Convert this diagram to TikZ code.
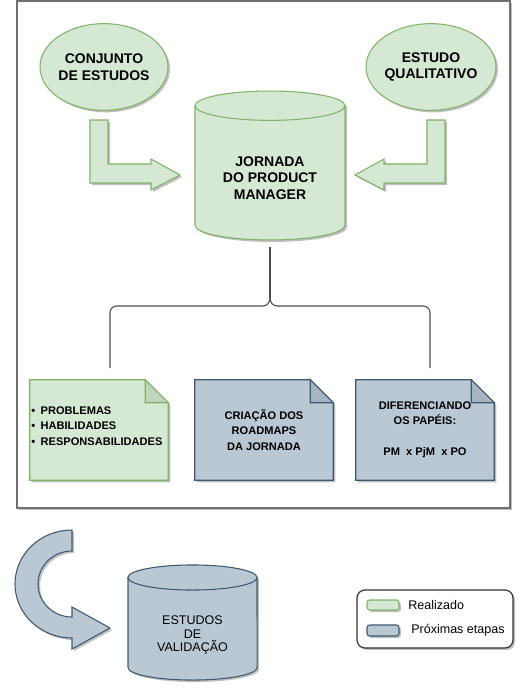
\documentclass[tikz,border=0pt]{standalone}
\usepackage{fontspec}
\setmainfont{Liberation Sans}
\usetikzlibrary{shapes.geometric,shadows,backgrounds}

\definecolor{donefill}{HTML}{D5E8D4}
\definecolor{doneline}{HTML}{82B366}
\definecolor{donefold}{HTML}{BFD6BD}
\definecolor{nextfill}{HTML}{BAC8D3}
\definecolor{nextline}{HTML}{3E5A70}
\definecolor{nextfold}{HTML}{A6B5C1}
\definecolor{frameline}{HTML}{707070}

\tikzset{
  shade/.style={drop shadow={shadow xshift=1.5pt,shadow yshift=-1.5pt,opacity=0.25,fill=black}},
  done/.style={fill=donefill,draw=doneline,line width=0.8pt},
  next/.style={fill=nextfill,draw=nextline,line width=0.8pt},
  bigtext/.style={font=\fontsize{10.5}{12.5}\selectfont\bfseries,align=center},
  doctext/.style={font=\fontsize{8.3}{11.6}\selectfont\bfseries},
  smalltext/.style={font=\fontsize{9.4}{10}\selectfont},
  source/.style={ellipse,done,shade,inner sep=0pt},
  docnote/.style={minimum width=103.5pt,minimum height=75pt,inner sep=0pt},
  link/.style={draw=black!70,line width=0.8pt},
  swatch/.style={rounded corners=2pt,line width=0.8pt,shade}
}

\begin{document}
\begin{tikzpicture}[x=0.75pt,y=-0.75pt]
    \useasboundingbox (0,0) rectangle (529,692);

    % entradas
    \node[source,minimum width=96pt,minimum height=65pt] (conj) at (104,67) {};
    \node[bigtext] at (conj) {CONJUNTO\\DE ESTUDOS};
    \node[source,minimum width=97.5pt,minimum height=65pt] (quali) at (431,67) {};
    \node[bigtext] at (quali) {ESTUDO\\QUALITATIVO};

    % cilindro da jornada
    \filldraw[done,shade] (195,105.7) -- (195,225.3)
        arc[start angle=180,end angle=360,x radius=56.25pt,y radius=11pt] -- (345,105.7)
        arc[start angle=0,end angle=180,x radius=56.25pt,y radius=11pt] -- cycle;
    \draw[done,fill=none] (195,105.7) arc[start angle=180,end angle=360,x radius=56.25pt,y radius=11pt];
    \node[bigtext] (jornada) at (270,178) {JORNADA\\DO PRODUCT\\MANAGER};
    \coordinate (jornadabase) at (270,247);

    % setas em L
    \filldraw[done,shade] (90,120) -- (108,120) -- (108,164) -- (151,164) -- (151,159)
        -- (180,175) -- (151,190) -- (151,183) -- (90,183) -- cycle;
    \filldraw[done,shade] (445,120) -- (427,120) -- (427,164) -- (384,164) -- (384,159)
        -- (355,175) -- (384,190) -- (384,183) -- (445,183) -- cycle;

    % resultados
    \node[docnote] (prob) at (99,430) {};
    \node[doctext,align=left,anchor=west,inner sep=0pt] (probtext) at (31,426)
        {•\enspace PROBLEMAS\\•\enspace HABILIDADES\\•\enspace RESPONSABILIDADES};
    \node[docnote,doctext,align=center] (road) at (264,430)
        {CRIAÇÃO DOS\\ROADMAPS\\DA JORNADA};
    \node[docnote,doctext,align=center] (roles) at (425,430)
        {DIFERENCIANDO\\OS PAPÉIS:\\[11.6pt]PM~ x PjM~ x PO};

    \begin{scope}[on background layer]
        % moldura
        \draw[frameline,line width=0.9pt,fill=white,shade] (17,1) rectangle (510,508);
        \foreach \n/\c in {prob/done,road/next,roles/next} {
            \filldraw[\c,shade] (\n.north west) -- ([xshift=-17.25pt]\n.north east)
                -- ([yshift=-17.25pt]\n.north east) -- (\n.south east) -- (\n.south west) -- cycle;
            \filldraw[\c,fill=\c fold] ([xshift=-17.25pt]\n.north east)
                -- ([xshift=-17.25pt,yshift=-17.25pt]\n.north east) -- ([yshift=-17.25pt]\n.north east) -- cycle;
        }
    \end{scope}

    % chave
    \coordinate (fork) at (270,298);
    \coordinate (left) at (110,368);
    \coordinate (right) at (430,368);
    \draw[link] (jornadabase) -- (fork);
    \draw[link] (fork) to[out=-90,in=0] (263,306);
    \draw[link] (fork) to[out=-90,in=180] (277,306);
    \draw[link,rounded corners=5pt] (263,306) -| (left);
    \draw[link,rounded corners=5pt] (277,306) -| (right);

    % proxima etapa
    \filldraw[next,shade] (72,530) arc[start angle=90,end angle=270,x radius=42.75pt,y radius=40.5pt]
        -- (72,649) -- (110,628) -- (72,607) -- (72,617)
        arc[start angle=270,end angle=90,x radius=25.5pt,y radius=24.75pt] -- cycle;
    \filldraw[next,shade] (128,577.5) -- (128,667.5)
        arc[start angle=180,end angle=360,x radius=48.4pt,y radius=9.4pt] -- (257,577.5)
        arc[start angle=0,end angle=180,x radius=48.4pt,y radius=9.4pt] -- cycle;
    \draw[next,fill=none] (128,577.5) arc[start angle=180,end angle=360,x radius=48.4pt,y radius=9.4pt];
    \node[smalltext,align=center] (valid) at (192.5,635) {ESTUDOS\\DE\\VALIDAÇÃO};

    % legenda
    \draw[black!80,line width=0.9pt,rounded corners=6pt,fill=white,shade] (357,590) rectangle (513,648);
    \filldraw[done,swatch] (367,600) rectangle (399,610);
    \filldraw[next,swatch] (367,625) rectangle (399,636);
    \node[smalltext,anchor=west,inner sep=0pt] (lgdone) at (408,605) {Realizado};
    \node[smalltext,anchor=west,inner sep=0pt] (lgnext) at (411,630) {Próximas etapas};
\end{tikzpicture}
\end{document}
